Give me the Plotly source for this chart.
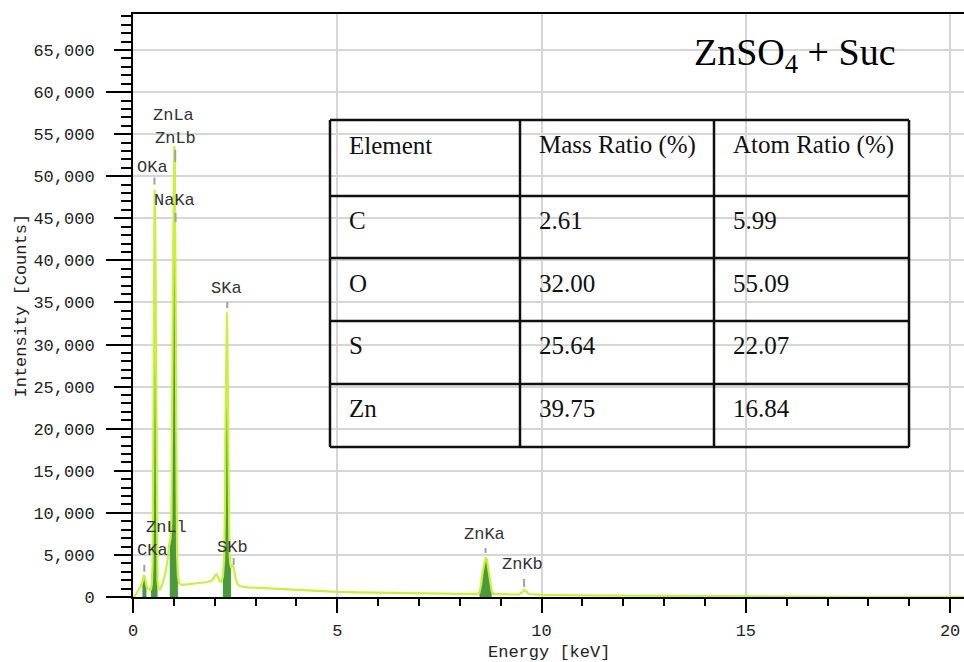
import plotly.graph_objects as go

# ---- EDS spectrum: energy (keV) vs. intensity (counts) ----
energy_kev = [
    0.00, 0.05, 0.10, 0.15, 0.20, 0.23, 0.25, 0.27, 0.29, 0.31, 0.33, 0.36, 0.40, 0.42,
    0.44, 0.46, 0.48, 0.49, 0.50, 0.51, 0.52, 0.53, 0.54, 0.55, 0.56, 0.57, 0.58, 0.59,
    0.60, 0.62, 0.66, 0.70, 0.75, 0.80, 0.85, 0.88, 0.90, 0.92, 0.94, 0.96, 0.97, 0.98,
    0.99, 1.00, 1.01, 1.02, 1.03, 1.04, 1.05, 1.06, 1.07, 1.08, 1.10, 1.13, 1.20, 1.30,
    1.40, 1.50, 1.60, 1.70, 1.80, 1.90, 1.96, 2.00, 2.04, 2.08, 2.12, 2.16, 2.20, 2.23,
    2.25, 2.26, 2.27, 2.28, 2.29, 2.30, 2.31, 2.32, 2.33, 2.34, 2.36, 2.38, 2.40, 2.43,
    2.46, 2.48, 2.52, 2.58, 2.65, 2.80, 3.00, 3.50, 4.00, 4.50, 5.00, 5.50, 6.00, 6.50,
    7.00, 7.50, 8.00, 8.40, 8.48, 8.52, 8.56, 8.60, 8.63, 8.66, 8.70, 8.74, 8.78, 8.82,
    9.00, 9.30, 9.45, 9.52, 9.57, 9.62, 9.68, 9.80, 10.0, 11.0, 12.0, 13.0, 14.0, 14.98,
    15.02, 16.0, 17.0, 18.0, 19.0, 20.0, 20.34,
]
counts = [
    0, 150, 500, 900, 1400, 1700, 2200, 2600, 2400, 1800, 1300, 1000, 900, 850,
    900, 1500, 4000, 9000, 20000, 28000, 40000, 48400, 47000, 40000, 28000, 19200, 9000, 4000,
    2000, 1000, 900, 1300, 2000, 3000, 4500, 6000, 6500, 7000, 9000, 18000, 30500, 38500,
    47000, 52500, 53600, 53200, 48000, 38500, 30500, 19000, 9000, 5000, 2500, 1600, 1450, 1500,
    1550, 1600, 1650, 1700, 1750, 1900, 2100, 2500, 2700, 2400, 1900, 1800, 2400, 4500,
    10300, 18700, 24400, 30000, 33800, 33800, 30000, 24400, 18700, 10300, 5500, 4000, 3600, 3700,
    3600, 3000, 2000, 1400, 1250, 1150, 1100, 950, 850, 720, 620, 560, 520, 470,
    440, 400, 370, 350, 500, 1500, 3000, 4200, 4700, 4500, 3400, 1800, 700, 380,
    330, 300, 320, 550, 830, 700, 350, 280, 250, 200, 170, 140, 110, 90,
    10, 10, 5, 5, 5, 5, 5,
]

# Element integration windows (keV) shaded under the curve
roi_windows = [(0.22, 0.34), (0.44, 0.60), (0.90, 1.10), (2.18, 2.42), (8.45, 8.80)]

# Peak identification markers
peak_names = ["CKa", "OKa", "ZnLl", "ZnLa", "ZnLb", "NaKa", "SKa", "SKb", "ZnKa", "ZnKb"]
peak_kev = [0.277, 0.525, 0.884, 1.012, 1.034, 1.041, 2.307, 2.464, 8.630, 9.572]

# Quantification table
table_header = ["Element", "Mass Ratio (%)", "Atom Ratio (%)"]
table_elements = ["C", "O", "S", "Zn"]
mass_ratio = ["2.61", "32.00", "25.64", "39.75"]
atom_ratio = ["5.99", "55.09", "22.07", "16.84"]

# ---- styling / placement ----
LINE_COLOR = "#c8f03c"
FILL_COLOR = "#4a9a3d"
MONO = "Liberation Mono"
SERIF = "Liberation Serif"

# label anchor (counts at tick tip), text offset above the tip (px), x offset (px), tick length (px)
label_place = {
    "CKa": (3000, 21, 8, 7),
    "OKa": (49000, 17, -2, 7),
    "ZnLl": (6500, 15, -3, 0),
    "ZnLa": (54600, 22, -1, 0),
    "ZnLb": (51700, 23, 0, 12),
    "NaKa": (44560, 22, -1, 9),
    "SKa": (34340, 20, -1, 6),
    "SKb": (3800, 18, -1, 7),
    "ZnKa": (5230, 18, -1, 5),
    "ZnKb": (1190, 22, -2, 8),
}

W, H = 964, 662
ML, MR, MT, MB = 133, 0, 14, 65
PW, PH = W - ML - MR, H - MT - MB
X_MAX = 20.34
Y_MAX = 69280


def px_x(px):
    return (px - ML) / PW


def px_y(py):
    return (H - MB - py) / PH


fig = go.Figure()

# shaded element windows
for lo, hi in roi_windows:
    xs = [e for e in energy_kev if lo <= e <= hi]
    ys = [c for e, c in zip(energy_kev, counts) if lo <= e <= hi]
    fig.add_trace(go.Scatter(
        x=xs, y=ys, mode="lines", fill="tozeroy", fillcolor=FILL_COLOR,
        line=dict(width=0, color=FILL_COLOR), hoverinfo="skip", showlegend=False,
    ))

# spectrum line
fig.add_trace(go.Scatter(
    x=energy_kev, y=counts, mode="lines",
    line=dict(color=LINE_COLOR, width=2.2), showlegend=False,
))

shapes = []
annotations = []

# peak labels with small gray ticks
for name, e in zip(peak_names, peak_kev):
    tip, dy, dx, tlen = label_place[name]
    annotations.append(dict(
        x=e, y=tip, xref="x", yref="y", text=name, showarrow=False,
        xshift=dx, yshift=dy, yanchor="middle",
        font=dict(family=MONO, size=17, color="#333333"),
    ))
    if tlen > 0:
        shapes.append(dict(
            type="line", xref="x", yref="y", x0=e, x1=e,
            ysizemode="pixel", yanchor=tip, y0=0, y1=tlen,
            line=dict(color="#a0a0a0", width=2), layer="above",
        ))

# sample title on a white box
shapes.append(dict(
    type="rect", xref="paper", yref="paper",
    x0=px_x(677), x1=px_x(930), y0=px_y(83), y1=px_y(20),
    fillcolor="white", line=dict(width=0), layer="between",
))
annotations.append(dict(
    x=px_x(795), y=px_y(55), xref="paper", yref="paper",
    text="ZnSO<sub>4</sub> + Suc", showarrow=False,
    xanchor="center", yanchor="middle",
    font=dict(family=SERIF, size=38, color="black"),
))

# quantification table frame
col_edges = [330, 520, 714, 909]
row_edges = [120, 196, 258, 321, 384, 447]
for cx in col_edges:
    shapes.append(dict(
        type="line", xref="paper", yref="paper",
        x0=px_x(cx), x1=px_x(cx), y0=px_y(row_edges[0]), y1=px_y(row_edges[-1]),
        line=dict(color="#111111", width=2.5), layer="above",
    ))
for ry in row_edges:
    shapes.append(dict(
        type="line", xref="paper", yref="paper",
        x0=px_x(col_edges[0]), x1=px_x(col_edges[-1]), y0=px_y(ry), y1=px_y(ry),
        line=dict(color="#111111", width=2.5), layer="above",
    ))

table_rows = [table_header] + [list(r) for r in zip(table_elements, mass_ratio, atom_ratio)]
for ri, row in enumerate(table_rows):
    for ci, cell in enumerate(row):
        annotations.append(dict(
            x=px_x(col_edges[ci] + 17), y=px_y(row_edges[ri] + 25),
            xref="paper", yref="paper", text=cell, showarrow=False,
            xanchor="left", yanchor="middle",
            font=dict(family=SERIF, size=25, color="#111111"),
        ))

# axis titles
annotations.append(dict(
    x=0.5, y=px_y(652), xref="paper", yref="paper", text="Energy [keV]",
    showarrow=False, xanchor="center", yanchor="middle",
    font=dict(family=MONO, size=17, color="#222222"),
))
annotations.append(dict(
    x=px_x(21), y=0.5, xref="paper", yref="paper", text="Intensity [Counts]",
    showarrow=False, textangle=-90, xanchor="center", yanchor="middle",
    font=dict(family=MONO, size=17, color="#222222"),
))

# invisible trace so the long-tick overlay axis is drawn
fig.add_trace(go.Scatter(x=[None], y=[None], yaxis="y2", showlegend=False, hoverinfo="skip"))

fig.update_layout(
    width=W, height=H,
    margin=dict(l=ML, r=MR, t=MT, b=MB),
    paper_bgcolor="white", plot_bgcolor="white",
    showlegend=False,
    shapes=shapes, annotations=annotations,
    xaxis=dict(
        range=[0, X_MAX], tickvals=[0, 5, 10, 15, 20],
        ticks="outside", ticklen=14, tickwidth=2, tickcolor="black",
        showline=True, linecolor="black", linewidth=2, mirror=True,
        showgrid=True, gridcolor="#d6d6d6", gridwidth=1.5, zeroline=False,
        minor=dict(dtick=1, ticks="outside", ticklen=7, tickwidth=1.5,
                   tickcolor="black", showgrid=False),
        tickfont=dict(family=MONO, size=17, color="#222222"),
        ticklabelstandoff=3,
    ),
    yaxis=dict(
        range=[0, Y_MAX], dtick=5000, tickformat=",d",
        ticks="outside", ticklen=17, tickwidth=2, tickcolor="black",
        showline=True, linecolor="black", linewidth=2,
        showgrid=True, gridcolor="#d6d6d6", gridwidth=1.5, zeroline=False,
        minor=dict(dtick=1000, ticks="outside", ticklen=10, tickwidth=1.5,
                   tickcolor="black", showgrid=False),
        tickfont=dict(family=MONO, size=17, color="#222222"),
        ticklabelstandoff=16,
    ),
    yaxis2=dict(
        overlaying="y", side="left", anchor="x", range=[0, Y_MAX], dtick=10000,
        ticks="outside", ticklen=26, tickwidth=2, tickcolor="black",
        showticklabels=False, showgrid=False, zeroline=False, showline=False,
    ),
)

fig.write_html("out.html")
